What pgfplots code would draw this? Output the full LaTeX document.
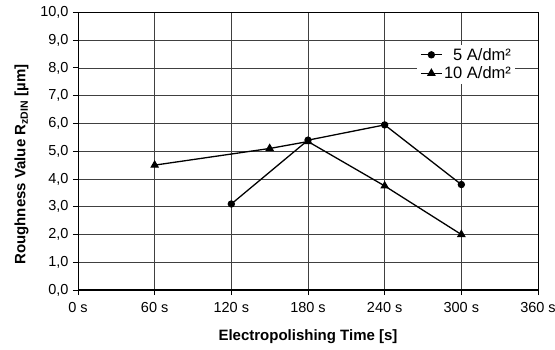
\documentclass[border=0pt]{standalone}
\usepackage{pgfplots}
\pgfplotsset{compat=1.18}
\usepackage{fontspec}
\setmainfont{Liberation Sans}
\begin{document}
\begin{tikzpicture}[x=1bp,y=1bp]
\path[use as bounding box] (-78,-59) rectangle (477,290);
\begin{axis}[
  at={(0,0)}, anchor=south west,
  scale only axis, width=460bp, height=277.5bp,
  xmin=0, xmax=360, ymin=0, ymax=10,
  xtick={0,60,...,360},
  xticklabels={0 s,60 s,120 s,180 s,240 s,300 s,360 s},
  ytick={0,1,...,10},
  yticklabel style={xshift=-1bp, /pgf/number format/.cd, use comma, fixed, fixed zerofill, precision=1},
  xticklabel style={yshift=-3.5bp},
  /pgf/number format/assume math mode=true,
  tick align=outside, major tick length=5bp,
  xtick pos=left, ytick pos=left,
  tick style={black, line width=1bp},
  grid=major,
  major grid style={black!75, line width=0.6bp},
  axis line style={black, line width=0.9bp},
  font=\fontsize{14.5bp}{17bp}\selectfont,
  ticklabel style={font=\fontsize{14.5bp}{17bp}\selectfont},
  xlabel={\bfseries Electropolishing Time [s]},
  ylabel={\bfseries Roughness Value R\textsubscript{zDIN} [µm]},
  xlabel style={font=\fontsize{15bp}{18bp}\selectfont, at={(axis description cs:0.5,0)}, anchor=base, yshift=-50bp},
  ylabel style={font=\fontsize{15bp}{18bp}\selectfont, at={(axis description cs:0,0.452)}, anchor=base, yshift=52.5bp},
  legend style={at={(0.737,0.885)}, anchor=north west, draw=none, fill=white,
    font=\fontsize{16.5bp}{19bp}\selectfont, inner xsep=3bp, inner ysep=2bp,
    nodes={inner sep=1.5bp}, row sep=2bp},
  legend cell align=right,
  legend image code/.code={\draw[mark repeat=2,mark phase=2,#1] plot coordinates {(0bp,0bp) (10.5bp,0bp) (21bp,0bp)};},
]
\addplot[black, line width=1.3bp, mark=*, mark size=3bp, mark options={solid,fill=black}]
  coordinates {(120,3.1) (180,5.4) (240,5.95) (300,3.8)};
\addlegendentry{5 A/dm²}
\addplot[black, line width=1.3bp, mark=triangle*, mark size=3.8bp, mark options={solid,fill=black}]
  coordinates {(60,4.5) (150,5.1) (180,5.35) (240,3.75) (300,2.0)};
\addlegendentry{10 A/dm²}
\draw[black, line width=2bp] (rel axis cs:0,1) -- (rel axis cs:0,0) -- (rel axis cs:1,0);
\end{axis}
\end{tikzpicture}
\end{document}
